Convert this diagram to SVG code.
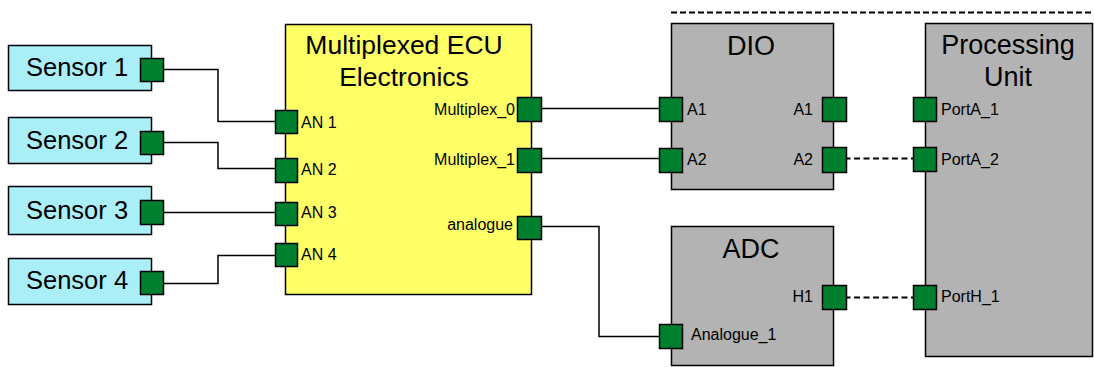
<svg xmlns="http://www.w3.org/2000/svg" width="1094" height="367" viewBox="0 0 1094 367">
<style>
.sensor{fill:#AAEEF8;stroke:#000;stroke-width:1.5}
.ecu{fill:#FFFF66;stroke:#000;stroke-width:1.5}
.blk{fill:#B3B3B3;stroke:#000;stroke-width:1.5}
.port{fill:#007F2F;stroke:#000;stroke-width:1.5}
.big{font-family:"Liberation Sans",Arial,sans-serif;font-size:25.5px;fill:#000}
.title{font-family:"Liberation Sans",Arial,sans-serif;font-size:27px;fill:#000;text-anchor:middle}
.sm{font-family:"Liberation Sans",Arial,sans-serif;font-size:16px;fill:#000}
.r{text-anchor:end}
.wire{fill:none;stroke:#000;stroke-width:1.5}
.dash{fill:none;stroke:#000;stroke-width:2;stroke-dasharray:6 3.5}
</style>
<rect width="1094" height="367" fill="#fff"/>
<g id="connectors">
<polyline class="wire" points="162,69.5 218,69.5 218,121.5 276,121.5"/>
<polyline class="wire" points="162,142.5 218,142.5 218,168.5 276,168.5"/>
<polyline class="wire" points="162,212.5 276,212.5"/>
<polyline class="wire" points="162,283.5 218,283.5 218,255.5 276,255.5"/>
<polyline class="wire" points="530,108.5 660,108.5"/>
<polyline class="wire" points="530,158.5 660,158.5"/>
<polyline class="wire" points="530,226.5 599,226.5 599,336.5 660,336.5"/>
<line class="dash" x1="835" y1="158.5" x2="914" y2="158.5"/>
<line class="dash" x1="835" y1="297.5" x2="914" y2="297.5"/>
<line class="dash" x1="671" y1="12.5" x2="1094" y2="12.5" style="stroke-dasharray:6 3"/>
</g>
<g id="sensor1">
<rect class="sensor" x="8.5" y="45.5" width="143" height="45"/>
<text class="big" x="26" y="76">Sensor 1</text>
<rect class="port" x="140.5" y="58.5" width="23" height="23"/>
</g>
<g id="sensor2">
<rect class="sensor" x="8.5" y="117.5" width="143" height="46"/>
<text class="big" x="26" y="148.5">Sensor 2</text>
<rect class="port" x="140.5" y="131.5" width="23" height="23"/>
</g>
<g id="sensor3">
<rect class="sensor" x="8.5" y="186.5" width="143" height="48"/>
<text class="big" x="26" y="218.5">Sensor 3</text>
<rect class="port" x="140.5" y="200.5" width="23" height="24"/>
</g>
<g id="sensor4">
<rect class="sensor" x="8.5" y="258.5" width="143" height="46"/>
<text class="big" x="26" y="288.5">Sensor 4</text>
<rect class="port" x="140.5" y="271.5" width="23" height="23"/>
</g>
<g id="ecu">
<rect class="ecu" x="285.5" y="24.5" width="246" height="270"/>
<text class="big" x="404" y="54" text-anchor="middle" style="font-size:26.5px">Multiplexed ECU</text>
<text class="big" x="404" y="86" text-anchor="middle" style="font-size:26.5px">Electronics</text>
<rect class="port" x="275.5" y="110.5" width="22" height="23"/>
<rect class="port" x="275.5" y="158.5" width="22" height="24"/>
<rect class="port" x="275.5" y="202.5" width="22" height="23"/>
<rect class="port" x="275.5" y="243.5" width="22" height="23"/>
<text class="sm" x="301" y="128">AN 1</text>
<text class="sm" x="301" y="175">AN 2</text>
<text class="sm" x="301" y="218">AN 3</text>
<text class="sm" x="301" y="260">AN 4</text>
<rect class="port" x="517.5" y="97.5" width="24" height="24"/>
<rect class="port" x="517.5" y="148.5" width="24" height="24"/>
<rect class="port" x="517.5" y="216.5" width="24" height="23"/>
<text class="sm r" x="515" y="115">Multiplex_0</text>
<text class="sm r" x="515" y="165">Multiplex_1</text>
<text class="sm r" x="513" y="230">analogue</text>
</g>
<g id="dio">
<rect class="blk" x="671.5" y="23.5" width="162" height="166"/>
<text class="title" x="751" y="55">DIO</text>
<rect class="port" x="659.5" y="97.5" width="23" height="24"/>
<rect class="port" x="659.5" y="148.5" width="23" height="24"/>
<text class="sm" x="687" y="115">A1</text>
<text class="sm" x="687" y="165">A2</text>
<rect class="port" x="822.5" y="97.5" width="24" height="24"/>
<rect class="port" x="822.5" y="147.5" width="24" height="25"/>
<text class="sm r" x="813" y="115">A1</text>
<text class="sm r" x="813" y="165">A2</text>
</g>
<g id="adc">
<rect class="blk" x="671.5" y="226.5" width="162" height="139"/>
<text class="title" x="751" y="258">ADC</text>
<rect class="port" x="822.5" y="285.5" width="24" height="24"/>
<text class="sm r" x="813" y="302">H1</text>
<rect class="port" x="659.5" y="324.5" width="23" height="24"/>
<text class="sm" x="691" y="340">Analogue_1</text>
</g>
<g id="processing">
<rect class="blk" x="925.5" y="23.5" width="167" height="333"/>
<text class="title" x="1008" y="54">Processing</text>
<text class="title" x="1008" y="86">Unit</text>
<rect class="port" x="913.5" y="97.5" width="23" height="24"/>
<rect class="port" x="913.5" y="147.5" width="23" height="24"/>
<rect class="port" x="913.5" y="285.5" width="23" height="24"/>
<text class="sm" x="941" y="115">PortA_1</text>
<text class="sm" x="941" y="165">PortA_2</text>
<text class="sm" x="941" y="302">PortH_1</text>
</g>
</svg>
